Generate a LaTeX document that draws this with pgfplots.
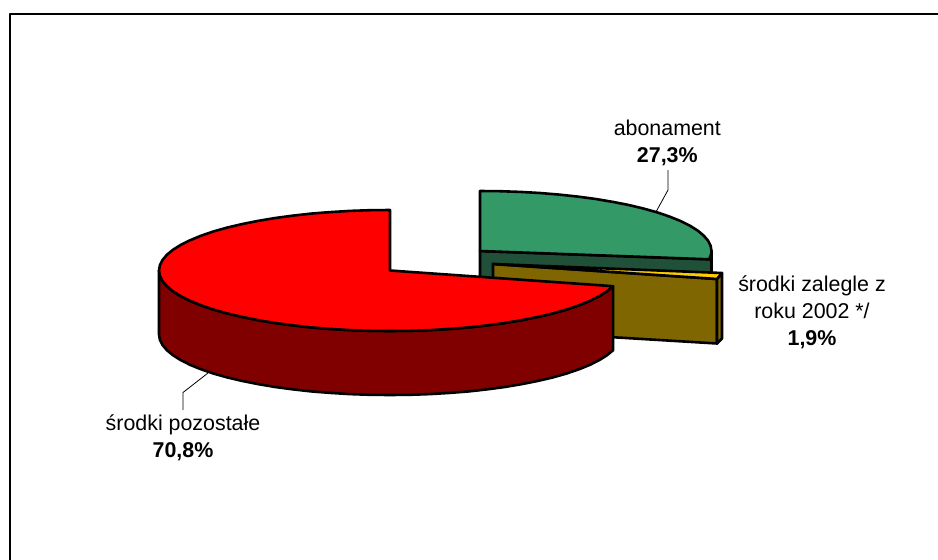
\documentclass[border=0pt]{standalone}
\usepackage{fontspec}
\setmainfont{Liberation Sans}
\usepackage{pgfplots}
\pgfplotsset{compat=1.18}
\definecolor{grnT}{RGB}{51,153,102}
\definecolor{grnS}{RGB}{32,80,56}
\definecolor{gldT}{RGB}{255,204,0}
\definecolor{gldS}{RGB}{128,102,0}
\definecolor{redS}{RGB}{128,0,0}
\begin{document}
\begin{tikzpicture}[every node/.style={font=\fontsize{21.4}{27}\selectfont,align=center,inner sep=0pt}]
\path[use as bounding box] (0,0) rectangle (938pt,560pt);
\begin{axis}[
  at={(0,0)}, anchor=south west,
  scale only axis, width=938pt, height=560pt,
  xmin=0, xmax=938, ymin=0, ymax=560, y dir=reverse,
  hide axis, clip=true,
  every axis plot/.append style={no markers, line join=round},
]
% frame
\addplot[black, line width=2.2pt] coordinates {(10,560) (10,14) (938,14)};
% abonament side
\addplot[fill=grnS, draw=black, line width=2.6pt] coordinates {(480,251) (709.2,259.3) (711.5,251) (711.5,315) (480,315)} -- cycle;
% abonament top
\addplot[fill=grnT, draw=black, line width=2.6pt] coordinates {(480,251) (480,191) (500.1,191.2) (520.2,191.9) (540.0,193.0) (559.2,194.6) (577.9,196.6) (595.8,199.0) (612.9,201.9) (628.8,205.0) (643.7,208.6) (657.3,212.4) (669.6,216.6) (680.5,221.0) (689.7,225.6) (697.6,230.5) (703.6,235.5) (708,240.6) (710.6,245.8) (711.5,251) (711.2,254.1) (709.2,259.3)} -- cycle;
% zalegle side
\addplot[fill=gldS, draw=black, line width=2.6pt] coordinates {(493,264) (717,279) (717,343.5) (493,330)} -- cycle;
\addplot[fill=gldS, draw=black, line width=2.6pt] coordinates {(717,279) (722,273) (722,338.5) (717,343.5)} -- cycle;
% zalegle top
\addplot[fill=gldT, draw=black, line width=2.6pt] coordinates {(493,264) (722,273) (717,279)} -- cycle;
% pozostale side
\addplot[fill=redS, draw=black, line width=2.6pt] coordinates {(159,270.5) (159.9,275.8) (162.5,281.0) (166.9,286.2) (172.9,291.2) (180.7,296.1) (190.0,300.8) (200.8,305.2) (213.0,309.4) (226.7,313.3) (241.5,316.8) (257.5,320.0) (274.5,322.9) (292.4,325.3) (311.0,327.4) (330.2,328.9) (349.9,330.1) (369.9,330.8) (390,331) (410.1,330.8) (430.1,330.1) (449.8,328.9) (469.0,327.4) (487.6,325.3) (505.5,322.9) (522.5,320.0) (538.5,316.8) (553.3,313.3) (567.0,309.4) (579.2,305.2) (590.0,300.8) (599.3,296.1) (607.1,291.2) (613.1,286.2) (613.1,350.2) (607.1,355.2) (599.3,360.1) (590.0,364.8) (579.2,369.2) (567.0,373.4) (553.3,377.3) (538.5,380.8) (522.5,384.0) (505.5,386.9) (487.6,389.3) (469.0,391.4) (449.8,392.9) (430.1,394.1) (410.1,394.8) (390,395) (369.9,394.8) (349.9,394.1) (330.2,392.9) (311.0,391.4) (292.4,389.3) (274.5,386.9) (257.5,384.0) (241.5,380.8) (226.7,377.3) (213.0,373.4) (200.8,369.2) (190.0,364.8) (180.7,360.1) (172.9,355.2) (166.9,350.2) (162.5,345.0) (159.9,339.8) (159,334.5)} -- cycle;
% pozostale top
\addplot[fill=red, draw=black, line width=2.6pt] coordinates {(390,270.5) (390,210) (369.9,210.2) (349.9,210.9) (330.2,212.1) (311.0,213.6) (292.4,215.7) (274.5,218.1) (257.5,221.0) (241.5,224.2) (226.7,227.7) (213.0,231.6) (200.8,235.8) (190.0,240.3) (180.7,244.9) (172.9,249.8) (166.9,254.8) (162.5,260.0) (159.9,265.2) (159,270.5) (159.9,275.8) (162.5,281.0) (166.9,286.2) (172.9,291.2) (180.7,296.1) (190.0,300.8) (200.8,305.2) (213.0,309.4) (226.7,313.3) (241.5,316.8) (257.5,320.0) (274.5,322.9) (292.4,325.3) (311.0,327.4) (330.2,328.9) (349.9,330.1) (369.9,330.8) (390,331) (410.1,330.8) (430.1,330.1) (449.8,328.9) (469.0,327.4) (487.6,325.3) (505.5,322.9) (522.5,320.0) (538.5,316.8) (553.3,313.3) (567.0,309.4) (579.2,305.2) (590.0,300.8) (599.3,296.1) (607.1,291.2) (613.1,286.2)} -- cycle;
% leaders
\addplot[black, line width=0.8pt] coordinates {(668,170) (668,190) (656.5,211)};
\addplot[black, line width=0.8pt] coordinates {(183,410) (183,392.5) (208,373)};
% labels
\node at (axis cs:667.3,143.3) {abonament\\\textbf{27,3\%}};
\node at (axis cs:812,311.8) {środki zalegle z\\roku 2002 */\\\textbf{1,9\%}};
\node at (axis cs:183,437.6) {środki pozostałe\\\textbf{70,8\%}};
\end{axis}
\end{tikzpicture}
\end{document}
